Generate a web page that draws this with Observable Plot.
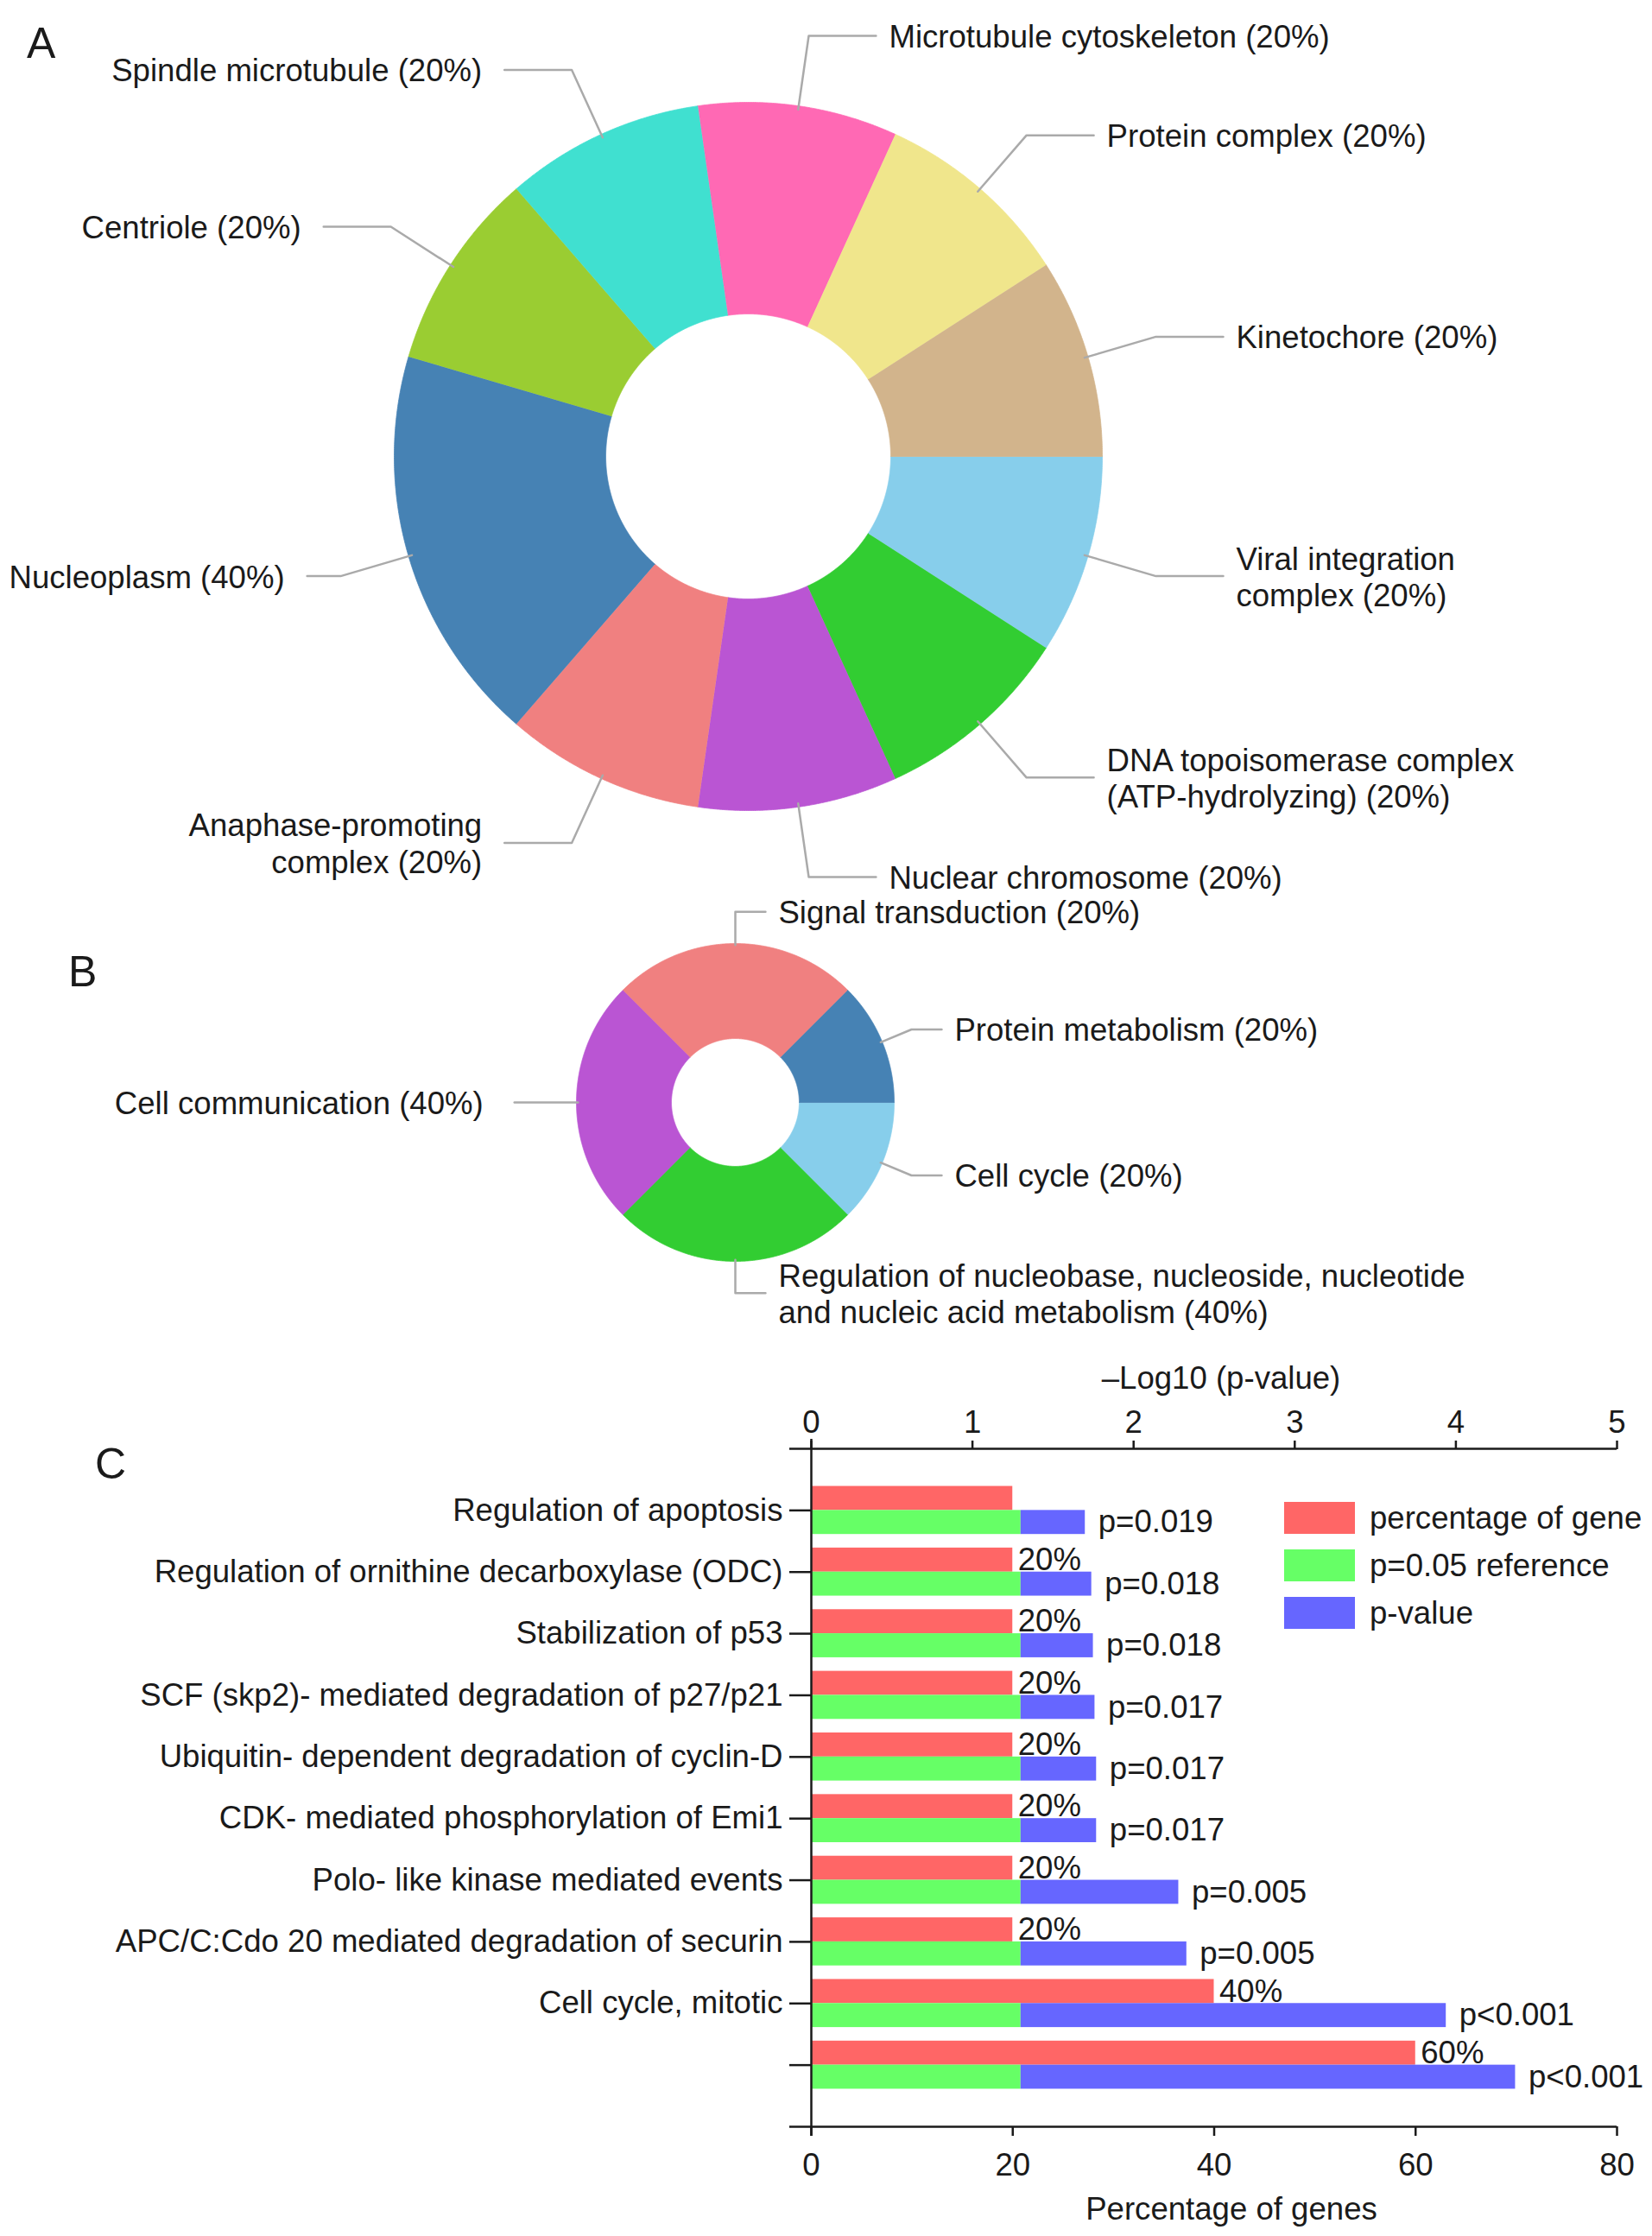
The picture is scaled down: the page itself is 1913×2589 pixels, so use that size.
<!DOCTYPE html>
<html>
<head>
<meta charset="utf-8">
<script src="https://cdn.jsdelivr.net/npm/d3@7"></script>
<script src="https://cdn.jsdelivr.net/npm/@observablehq/plot@0.6"></script>
<style>
html, body { margin: 0; padding: 0; background: #fff; overflow: hidden; }
#fig { position: relative; width: 1913px; height: 2589px; background: #fff;
  font-family: "Liberation Sans", Arial, Helvetica, sans-serif; color: #1a1a1a; }
#fig svg { display: block; }
.panel-letter { position: absolute; font-size: 50px; line-height: 1; color: #1a1a1a; }
#legend { position: absolute; left: 1487px; top: 1739px; width: 426px; }
div.leg-swatches { margin: 0; }
div.leg-swatches-columns div.leg-swatch { padding-bottom: 18px; display: flex; align-items: center; }
div.leg-swatch > svg { margin-right: 17px; }
div.leg-swatch-label { line-height: 37px; overflow: visible !important; text-overflow: clip !important; }
</style>
</head>
<body>
<div id="fig"></div>
<script>
// ---------------- DATA ----------------
// Panel A: cellular component (slices listed clockwise starting at 3 o'clock)
const ccNames = [
  "Viral integration\ncomplex",
  "DNA topoisomerase complex\n(ATP-hydrolyzing)",
  "Nuclear chromosome",
  "Anaphase-promoting\ncomplex",
  "Nucleoplasm",
  "Centriole",
  "Spindle microtubule",
  "Microtubule cytoskeleton",
  "Protein complex",
  "Kinetochore"
];
const ccPercent = [20, 20, 20, 20, 40, 20, 20, 20, 20, 20];
const ccColors = ["skyblue", "limegreen", "mediumorchid", "lightcoral", "steelblue",
  "yellowgreen", "turquoise", "hotpink", "khaki", "tan"];

// Panel B: biological process (slices clockwise starting at 3 o'clock)
const bpNames = [
  "Cell cycle",
  "Regulation of nucleobase, nucleoside, nucleotide\nand nucleic acid metabolism",
  "Cell communication",
  "Signal transduction",
  "Protein metabolism"
];
const bpPercent = [20, 40, 40, 20, 20];
const bpSliceSize = [1, 2, 2, 2, 1];   // slice sizes as drawn
const bpColors = ["skyblue", "limegreen", "mediumorchid", "lightcoral", "steelblue"];

// Panel C: pathways
const pathNames = [
  "Regulation of apoptosis",
  "Regulation of ornithine decarboxylase (ODC)",
  "Stabilization of p53",
  "SCF (skp2)- mediated degradation of p27/p21",
  "Ubiquitin- dependent degradation of cyclin-D",
  "CDK- mediated phosphorylation of Emi1",
  "Polo- like kinase mediated events",
  "APC/C:Cdo 20 mediated degradation of securin",
  "Cell cycle, mitotic",
  ""
];
const pctGenes = [20, 20, 20, 20, 20, 20, 20, 20, 40, 60];
const pctLabels = ["", "20%", "20%", "20%", "20%", "20%", "20%", "20%", "40%", "60%"];
const negLog10P = [1.70, 1.74, 1.75, 1.76, 1.77, 1.77, 2.28, 2.33, 3.94, 4.37];
const pLabels = ["p=0.019", "p=0.018", "p=0.018", "p=0.017", "p=0.017", "p=0.017",
  "p=0.005", "p=0.005", "p<0.001", "p<0.001"];
const refP = 0.05;
const bottomTicks = [0, 20, 40, 60, 80];
const topTicks = [0, 1, 2, 3, 4, 5];
const legendNames = ["percentage of gene", "p=0.05 reference", "p-value"];
const legendColors = ["#FF6666", "#66FF66", "#6666FF"];

// ---------------- LAYOUT ----------------
const W = 1913;
const FONT = '"Liberation Sans", Arial, Helvetica, sans-serif';
const FS = 36.6;
const TXT = "#1a1a1a";
const fig = document.getElementById("fig");

const ctx = document.createElement("canvas").getContext("2d");
ctx.font = `${FS}px ${FONT}`;
const textW = s => d3.max(s.split("\n"), l => ctx.measureText(l).width);

function donut(values, colors, key, cx, cy, R, r) {
  const arcs = d3.pie().sort(null).value(d => d)
    .startAngle(Math.PI / 2).endAngle(Math.PI / 2 + 2 * Math.PI)(values);
  const pts = [];
  arcs.forEach((a, i) => {
    const n = Math.max(8, Math.ceil((a.endAngle - a.startAngle) / 0.004));
    for (let k = 0; k <= n; k++) {
      const t = a.startAngle + (a.endAngle - a.startAngle) * k / n;
      pts.push({slice: key + i, color: colors[i], x: cx + R * Math.sin(t), y: cy - R * Math.cos(t)});
    }
    for (let k = n; k >= 0; k--) {
      const t = a.startAngle + (a.endAngle - a.startAngle) * k / n;
      pts.push({slice: key + i, color: colors[i], x: cx + r * Math.sin(t), y: cy - r * Math.cos(t)});
    }
  });
  return {arcs, pts};
}

function leaders(arcs, names, pcts, key, cx, cy, R, gapL) {
  return arcs.map((a, i) => {
    const m = (a.startAngle + a.endAngle) / 2;
    const s = Math.sin(m), c = Math.cos(m);
    const right = s > -1e-9;
    const x0 = cx + R * 0.99 * s, y0 = cy - R * 0.99 * c;
    const x1 = cx + R * 1.2 * s, y1 = cy - R * 1.2 * c;
    const text = `${names[i]} (${pcts[i]}%)`;
    const gap = right ? 15 : gapL;
    let h = 0.19 * R;
    const room = right ? (W - 10) - (x1 + gap + textW(text)) : x1 - gap - textW(text) - 10;
    h = Math.max(0, Math.min(h, room));
    const x2 = right ? x1 + h : x1 - h;
    return {id: key + i, right, text,
      pts: [{id: key + i, x: x0, y: y0}, {id: key + i, x: x1, y: y1}, {id: key + i, x: x2, y: y1}],
      tx: right ? x2 + gap : x2 - gap, ty: y1};
  });
}

// ---------------- PANELS A + B ----------------
const HAB = 1560;
const A = donut(ccPercent, ccColors, "a", 866, 528, 410, 165);
const B = donut(bpSliceSize, bpColors, "b", 851, 1276, 184, 74);
const labA = leaders(A.arcs, ccNames, ccPercent, "a", 866, 528, 410, 26);
const labB = leaders(B.arcs, bpNames, bpPercent, "b", 851, 1276, 184, 36);
const labs = labA.concat(labB);

const plotAB = Plot.plot({
  width: W, height: HAB, margin: 0,
  x: {domain: [0, W], range: [0, W], axis: null},
  y: {domain: [0, HAB], range: [0, HAB], axis: null},
  color: {type: "identity"},
  style: {fontFamily: FONT, fontSize: FS + "px", color: TXT, background: "#fff", overflow: "visible"},
  marks: [
    Plot.line(A.pts.concat(B.pts), {x: "x", y: "y", z: "slice", fill: "color", stroke: "color", strokeWidth: 0.8, curve: "linear"}),
    Plot.line(labs.flatMap(d => d.pts), {x: "x", y: "y", z: "id", stroke: "#aaaaaa", strokeWidth: 2.5, curve: "linear"}),
    Plot.text(labs.filter(d => d.right), {x: "tx", y: "ty", text: "text", textAnchor: "start", lineAnchor: "middle", fontSize: FS, lineHeight: 1.15, fill: TXT}),
    Plot.text(labs.filter(d => !d.right), {x: "tx", y: "ty", text: "text", textAnchor: "end", lineAnchor: "middle", fontSize: FS, lineHeight: 1.15, fill: TXT})
  ]
});
fig.appendChild(plotAB);

// ---------------- PANEL C ----------------
const HC = 2589 - HAB;
const xMax = d3.max(bottomTicks), tMax = d3.max(topTicks);
const k = xMax / tMax; // -log10(p) units -> percentage axis units
const refLog = -Math.log10(refP);
const half = 0.39;
const rows = pathNames.map((name, i) => ({
  i: i + 1, name, pct: pctGenes[i], pctLabel: pctLabels[i], lp: negLog10P[i], pLabel: pLabels[i]
}));

const plotC = Plot.plot({
  width: W, height: HC,
  marginLeft: 939, marginRight: 41, marginTop: 117, marginBottom: 127,
  x: {domain: [0, xMax], axis: null},
  y: {domain: [0, pathNames.length + 1], reverse: true, axis: null},
  style: {fontFamily: FONT, fontSize: FS + "px", color: TXT, background: "#fff", overflow: "visible"},
  marks: [
    Plot.rect(rows, {x1: () => 0, x2: "pct", y1: d => d.i - half, y2: d => d.i, fill: legendColors[0]}),
    Plot.rect(rows, {x1: () => 0, x2: () => refLog * k, y1: d => d.i, y2: d => d.i + half, fill: legendColors[1]}),
    Plot.rect(rows, {x1: () => refLog * k, x2: d => d.lp * k, y1: d => d.i, y2: d => d.i + half, fill: legendColors[2]}),
    Plot.text(rows, {x: "pct", y: d => d.i - half / 2, text: "pctLabel", textAnchor: "start", lineAnchor: "middle", dx: 6, fontSize: FS, fill: TXT}),
    Plot.text(rows, {x: d => d.lp * k, y: d => d.i + half / 2, text: "pLabel", textAnchor: "start", lineAnchor: "middle", dx: 15, fontSize: FS, fill: TXT}),
    Plot.ruleY([0, pathNames.length + 1], {insetLeft: -25, stroke: TXT, strokeWidth: 2.5}),
    Plot.ruleX([0], {insetTop: -11, insetBottom: -11, stroke: TXT, strokeWidth: 2.5}),
    Plot.axisX({anchor: "bottom", ticks: bottomTicks, tickSize: 11, tickPadding: 19, strokeWidth: 2.5, fontSize: FS, label: null}),
    Plot.axisX({anchor: "top", ticks: topTicks.map(t => t * k), tickFormat: d => String(d / k), tickSize: 10, tickPadding: 9, strokeWidth: 2.5, fontSize: FS, label: null}),
    Plot.axisY({anchor: "left", ticks: rows.map(d => d.i), tickFormat: i => pathNames[i - 1], tickSize: 25, tickPadding: 8, strokeWidth: 2.5, fontSize: FS, label: null}),
    Plot.text(["–Log10 (p-value)"], {frameAnchor: "top", dy: -81, dx: 8, lineAnchor: "middle", fontSize: FS, fill: TXT}),
    Plot.text(["Percentage of genes"], {frameAnchor: "bottom", dy: 96, dx: 20, lineAnchor: "middle", fontSize: FS, fill: TXT})
  ]
});
fig.appendChild(plotC);

// legend
const leg = Plot.legend({
  color: {type: "ordinal", domain: legendNames, range: legendColors},
  legend: "swatches", columns: 1, swatchWidth: 82, swatchHeight: 37,
  className: "leg",
  style: {fontFamily: FONT, fontSize: FS + "px", color: TXT}
});
const legBox = document.createElement("div");
legBox.id = "legend";
legBox.appendChild(leg);
fig.appendChild(legBox);

// panel letters
[["A", 31, 25], ["B", 79, 1100], ["C", 110, 1670]].forEach(([t, x, y]) => {
  const d = document.createElement("div");
  d.className = "panel-letter";
  d.style.left = x + "px"; d.style.top = y + "px";
  d.textContent = t;
  fig.appendChild(d);
});
</script>
</body>
</html>
